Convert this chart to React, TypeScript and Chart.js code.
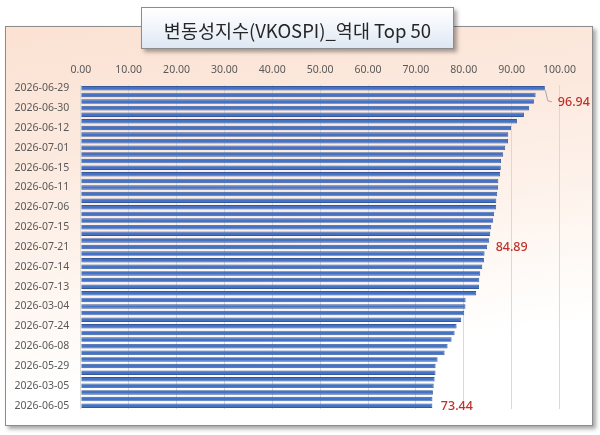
import React, { useEffect, useRef } from "react";
import { Chart, registerables } from "chart.js";

Chart.register(...registerables);

const chartTitle = "변동성지수(VKOSPI)_역대 Top 50";

// Every third bar carries a visible date label (as in the reference)
const dateLabels = [
  "2026-06-29", "2026-06-30", "2026-06-12", "2026-07-01", "2026-06-15",
  "2026-06-11", "2026-07-06", "2026-07-15", "2026-07-21", "2026-07-14",
  "2026-07-13", "2026-03-04", "2026-07-24", "2026-06-08", "2026-05-29",
  "2026-03-05", "2026-06-05",
];

const vkospiValues = [
  96.94, 95.01, 94.65, 93.61, 92.57, 91.11, 89.86, 89.30, 89.25, 88.66,
  88.24, 87.78, 87.74, 87.61, 87.22, 87.18, 86.99, 86.80, 86.77, 86.36,
  86.15, 85.74, 85.53, 85.32, 84.89, 84.35, 84.21, 83.86, 83.44, 83.24,
  83.20, 82.60, 80.38, 80.35, 80.10, 79.47, 78.50, 78.09, 77.46, 76.62,
  76.00, 74.54, 74.12, 74.10, 73.91, 73.72, 73.55, 73.46, 73.44,
];

const labelledBars = [0, 24, 48];

const xTicks = [0, 10, 20, 30, 40, 50, 60, 70, 80, 90, 100];

const categories = vkospiValues.map((_, i) =>
  i % 3 === 0 ? dateLabels[i / 3] : ""
);

const valueLabelPlugin = {
  id: "valueLabels",
  afterDatasetsDraw(chart: any) {
    const ctx = chart.ctx;
    const meta = chart.getDatasetMeta(0);
    ctx.save();
    ctx.font = "500 12.5px 'Noto Sans', sans-serif";
    ctx.fillStyle = "#C0302B";
    ctx.textBaseline = "middle";
    ctx.textAlign = "left";
    labelledBars.forEach((idx, k) => {
      const bar = meta.data[idx];
      if (!bar) return;
      const txt = vkospiValues[idx].toFixed(2);
      if (k === 0) {
        ctx.strokeStyle = "#A6A6A6";
        ctx.lineWidth = 1;
        ctx.beginPath();
        ctx.moveTo(bar.x + 0.5, bar.y + 2);
        ctx.lineTo(bar.x + 3, bar.y + 12.5);
        ctx.lineTo(bar.x + 7, bar.y + 13.5);
        ctx.stroke();
        ctx.fillText(txt, bar.x + 13, bar.y + 14.5);
      } else {
        ctx.fillText(txt, bar.x + 8.5, bar.y + 0.5);
      }
    });
    ctx.restore();
  },
};

export default function App() {
  const canvasRef = useRef<HTMLCanvasElement | null>(null);

  useEffect(() => {
    if (!canvasRef.current) return;
    const chart = new Chart(canvasRef.current, {
      type: "bar",
      data: {
        labels: categories,
        datasets: [
          {
            data: vkospiValues,
            backgroundColor: "#4472C4",
            borderColor: "#35599C",
            borderWidth: 0.9,
            barPercentage: 0.68,
            categoryPercentage: 1,
          },
        ],
      },
      options: {
        indexAxis: "y",
        animation: false,
        responsive: false,
        maintainAspectRatio: false,
        events: [],
        layout: { padding: { left: 0, top: 0, right: 40.5, bottom: 26 } },
        plugins: {
          legend: { display: false },
          tooltip: { enabled: false },
          title: { display: false },
        },
        scales: {
          x: {
            position: "top",
            min: 0,
            max: 100,
            afterBuildTicks: (s: any) => {
              s.ticks = xTicks.map((v) => ({ value: v }));
            },
            afterFit: (s: any) => {
              s.height = 85;
            },
            ticks: {
              padding: 8.7,
              color: "#595959",
              font: { family: "'Noto Sans', sans-serif", size: 10.5 },
              callback: (v: any) => Number(v).toFixed(2),
              maxRotation: 0,
            },
            grid: { color: "#D9D9D9", lineWidth: 1, drawTicks: false },
            border: { display: false },
          },
          y: {
            afterFit: (s: any) => {
              s.width = 80.8;
            },
            ticks: {
              autoSkip: false,
              padding: 11.5,
              color: "#595959",
              font: { family: "'Noto Sans', sans-serif", size: 10.5 },
            },
            grid: { display: false, drawTicks: false },
            border: { display: false },
          },
        },
      },
      plugins: [valueLabelPlugin],
    });
    return () => chart.destroy();
  }, []);

  return (
    <div
      style={{
        position: "absolute",
        left: 0,
        top: 0,
        width: 600,
        height: 435,
        background: "#FFFFFF",
        overflow: "hidden",
      }}
    >
      <div
        style={{
          position: "absolute",
          left: 5,
          top: 26,
          width: 586,
          height: 398,
          border: "1px solid #8C8C8C",
          background:
            "linear-gradient(172deg, #FBE2D3 0%, #FCE9DE 28%, #FEF5EF 55%, #FFFFFF 78%)",
          boxShadow: "3px 3px 4px rgba(0,0,0,0.35)",
        }}
      />
      <canvas
        ref={canvasRef}
        width={600}
        height={435}
        style={{ position: "absolute", left: 0, top: 0, width: 600, height: 435 }}
      />
      <div
        style={{
          position: "absolute",
          left: 141,
          top: 7,
          width: 313,
          height: 42,
          border: "1px solid #8C8C8C",
          background: "linear-gradient(to bottom, #FFFFFF 0%, #F2F6FB 45%, #DDE7F3 100%)",
          boxShadow: "3px 3px 4px rgba(0,0,0,0.35)",
          display: "flex",
          alignItems: "center",
          justifyContent: "center",
          fontFamily: "'Noto Sans CJK KR', 'Noto Sans', sans-serif",
          fontSize: 18.5,
          color: "#262626",
          paddingTop: 3,
          boxSizing: "border-box",
          whiteSpace: "nowrap",
        }}
      >
        {chartTitle}
      </div>
    </div>
  );
}
